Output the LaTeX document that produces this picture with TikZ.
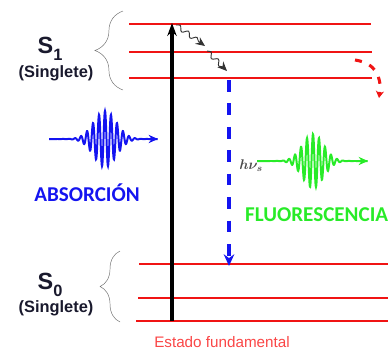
\documentclass[tikz,border=0pt]{standalone}
\usepackage{fontspec}
\setmainfont{Liberation Sans}
\newfontfamily\calfont{Carlito}
\usetikzlibrary{arrows.meta, decorations.pathreplacing, decorations.pathmorphing}
\definecolor{levelred}{RGB}{240, 20, 20}
\definecolor{pumpblue}{RGB}{20, 20, 240}
\definecolor{glowgreen}{RGB}{40, 235, 40}
\definecolor{labelnavy}{RGB}{25, 25, 45}
\definecolor{basered}{RGB}{250, 70, 70}
\definecolor{bracegray}{RGB}{110, 110, 110}

\begin{document}
\begin{tikzpicture}[
    x=0.03cm, y=-0.03cm, >=Stealth,
    enline/.style={draw=levelred, line width=2.5pt},
    statelbl/.style={font=\bfseries\fontsize{20}{21}\selectfont, text=labelnavy, inner sep=0pt},
    spinlbl/.style={font=\bfseries\fontsize{14}{16}\selectfont, text=labelnavy, inner sep=0pt},
    levelbrace/.style={draw=bracegray, thin, decorate, decoration={brace, amplitude=#1}},
    pump/.style={draw=black, line width=2.6pt, -{Stealth[length=11pt, width=8pt]}},
    relax/.style={draw=black!80, line width=0.8pt, decorate,
        decoration={snake, amplitude=2pt, segment length=9pt, post length=5pt},
        -{Stealth[length=8pt, width=7pt]}},
    emission/.style={draw=pumpblue, line width=3pt, dash pattern=on 10pt off 10pt,
        -{Stealth[length=10pt, width=9pt]}},
    crossing/.style={draw=levelred, line width=2.6pt, dash pattern=on 6pt off 7pt,
        -{Stealth[length=6pt, width=7pt]}},
    wavecap/.style={font=\calfont\bfseries\fontsize{18}{20}\selectfont, inner sep=0pt}
]
    \useasboundingbox (0,0) rectangle (388,351);

    % excited singlet S1
    \coordinate (s1a) at (129,24);  \coordinate (s1b) at (371,24);
    \coordinate (s1c) at (129,52);  \coordinate (s1d) at (372,52);
    \coordinate (s1e) at (129,78);  \coordinate (s1f) at (372,78);
    \draw[enline] (s1a) -- (s1b);
    \draw[enline] (s1c) -- (s1d);
    \draw[enline] (s1e) -- (s1f);

    % ground singlet S0
    \coordinate (s0a) at (139,264); \coordinate (s0b) at (388,264);
    \coordinate (s0c) at (138,298); \coordinate (s0d) at (388,298);
    \coordinate (s0e) at (136,321); \coordinate (s0f) at (388,321);
    \draw[enline] (s0a) -- (s0b);
    \draw[enline] (s0c) -- (s0d);
    \draw[enline] (s0e) -- (s0f);

    % braces and state labels
    \draw[levelbrace=24pt] (123,90) -- (123,11);
    \draw[levelbrace=17pt] (120,322) -- (120,251);
    \node[statelbl] (lblS1) at (50,49) {S\raisebox{-0.28em}{\fontsize{14}{14}\selectfont 1}};
    \node[spinlbl] (spinS1) at (56,73) {(Singlete)};
    \node[statelbl] (lblS0) at (50,285) {S\raisebox{-0.28em}{\fontsize{14}{14}\selectfont 0}};
    \node[spinlbl] (spinS0) at (56,308) {(Singlete)};

    % absorption
    \coordinate (up0) at (172,321);
    \coordinate (up1) at (172,23);
    \draw[pump] (up0) -- (up1);

    % vibrational relaxation
    \coordinate (vr0) at (176,25);  \coordinate (vr1) at (205,46);
    \coordinate (vr2) at (207,51);  \coordinate (vr3) at (227,71);
    \draw[relax] (vr0) -- (vr1);
    \draw[relax] (vr2) -- (vr3);

    % fluorescence emission
    \coordinate (em0) at (229,80);
    \coordinate (em1) at (229,266);
    \draw[emission] (em0) -- (em1);

    % crossing to the right
    \coordinate (cx0) at (355,60);
    \coordinate (cx1) at (379,98);
    \draw[crossing] (cx0) .. controls (375,63) and (382,76) .. (cx1);

    % photons
    \draw[pumpblue, line width=1.7pt, -{Stealth[length=8pt, width=7pt]}, domain=49:158, samples=400]
        plot (\x, {139 - 28*exp(-(\x-105)*(\x-105)/256)*cos(60*(\x-105))});
    \draw[glowgreen, line width=1.7pt, -{Stealth[length=8pt, width=7pt]}, domain=257:368, samples=400]
        plot (\x, {161 - 27*exp(-(\x-313)*(\x-313)/225)*cos(60*(\x-313))});

    \node[text=gray!60!black, font=\boldmath\fontsize{12}{13}\selectfont, inner sep=0pt] (hnu) at (251,166) {$h\nu_s$};
    \node[wavecap, text=pumpblue] (absor) at (87,193) {ABSORCIÓN};
    \node[wavecap, text=glowgreen, anchor=west] (fluor) at (245,215) {FLUORESCENCIA};
    \node[text=basered, font=\fontsize{13}{15}\selectfont, inner sep=0pt] (fund) at (222,342) {Estado fundamental};
\end{tikzpicture}
\end{document}
